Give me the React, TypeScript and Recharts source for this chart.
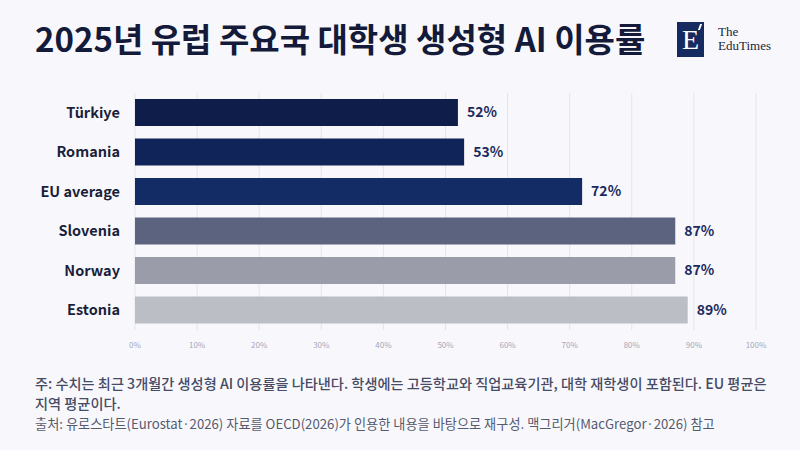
import React from 'react';
import { BarChart, Bar, XAxis, YAxis, CartesianGrid, Cell, LabelList } from 'recharts';

const countries = ['Türkiye', 'Romania', 'EU average', 'Slovenia', 'Norway', 'Estonia'];
const usageRate = [52, 53, 72, 87, 87, 89];
const barColors = ['#0f1d4a', '#10245a', '#132c66', '#5c637e', '#9a9ca9', '#bcbec6'];
const xTicks = [0, 10, 20, 30, 40, 50, 60, 70, 80, 90, 100];

const data = countries.map((name, i) => ({ name, value: usageRate[i] }));

const FONT = '"Noto Sans CJK KR", "Noto Sans", sans-serif';
const SERIF = '"Liberation Serif", serif';

export default function App() {
  return (
    <div style={{ position: 'absolute', top: 0, left: 0, width: 800, height: 450, background: '#f8f8fc', fontFamily: FONT, overflow: 'hidden' }}>
      <div style={{ position: 'absolute', left: 35, top: 14, fontSize: 33, fontWeight: 700, color: '#141a3a', whiteSpace: 'nowrap' }}>
        2025년 유럽 주요국 대학생 생성형 AI 이용률
      </div>

      {/* logo */}
      <div style={{ position: 'absolute', left: 677, top: 22, width: 27, height: 35, background: '#152a5e' }}>
        <div style={{ position: 'absolute', left: 0, top: 4, width: 27, textAlign: 'center', color: '#fff', fontFamily: SERIF, fontSize: 28, lineHeight: '28px' }}>E</div>
        <div style={{ position: 'absolute', right: 3, top: 2, width: 2, height: 6, background: '#fff', transform: 'skewX(-20deg)' }} />
      </div>
      <div style={{ position: 'absolute', left: 718, top: 25, fontFamily: SERIF, fontSize: 13, lineHeight: '14px', color: '#1a1f3a' }}>The</div>
      <div style={{ position: 'absolute', left: 718, top: 39, fontFamily: SERIF, fontSize: 13, lineHeight: '14px', color: '#1a1f3a' }}>EduTimes</div>

      <div style={{ position: 'absolute', left: 0, top: 0 }}>
        <BarChart
          width={800}
          height={360}
          data={data}
          layout="vertical"
          margin={{ top: 93, right: 44, bottom: 0, left: 0 }}
          barSize={27}
        >
          <CartesianGrid horizontal={false} stroke="#e3e4eb" />
          <XAxis
            type="number"
            domain={[0, 100]}
            ticks={xTicks}
            tickFormatter={(v) => `${v}%`}
            axisLine={false}
            tickLine={false}
            height={30}
            tick={{ fontSize: 8, fill: '#a3a7ba', fontFamily: FONT }}
            tickMargin={6}
          />
          <YAxis
            type="category"
            dataKey="name"
            width={135}
            axisLine={false}
            tickLine={false}
            tickSize={0}
            tickMargin={15}
            tick={{ fontSize: 14.5, fontWeight: 700, fill: '#1a1f3a', fontFamily: FONT }}
          />
          <Bar dataKey="value" isAnimationActive={false}>
            {data.map((d, i) => (
              <Cell key={d.name} fill={barColors[i]} />
            ))}
            <LabelList
              dataKey="value"
              position="right"
              offset={9}
              formatter={(v: number) => `${v}%`}
              style={{ fontSize: 14, fontWeight: 700, fill: '#1b2a5c', fontFamily: FONT }}
            />
          </Bar>
        </BarChart>
      </div>

      <div style={{ position: 'absolute', left: 35, top: 373, fontSize: 14.2, fontWeight: 500, color: '#464b66', lineHeight: '20px', whiteSpace: 'nowrap' }}>
        주: 수치는 최근 3개월간 생성형 AI 이용률을 나타낸다. 학생에는 고등학교와 직업교육기관, 대학 재학생이 포함된다. EU 평균은
        <br />
        지역 평균이다.
      </div>
      <div style={{ position: 'absolute', left: 35, top: 414, fontSize: 13.2, fontWeight: 400, color: '#565a6e', whiteSpace: 'nowrap' }}>
        출처: 유로스타트(Eurostat·2026) 자료를 OECD(2026)가 인용한 내용을 바탕으로 재구성. 맥그리거(MacGregor·2026) 참고
      </div>
    </div>
  );
}
